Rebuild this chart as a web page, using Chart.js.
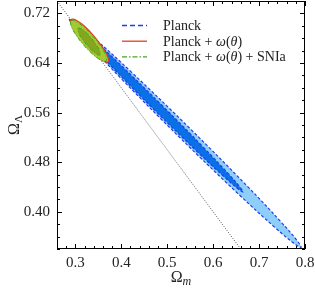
<!DOCTYPE html>
<html>
<head>
<meta charset="utf-8">
<script src="https://cdn.jsdelivr.net/npm/chart.js@4.4.1/dist/chart.umd.min.js"></script>
<style>
  html, body { margin: 0; padding: 0; background: #fff; }
  canvas { display: block; }
</style>
</head>
<body>
<canvas id="chart" width="315" height="290"></canvas>
<script>
// axis ticks
const xTicks = [0.3, 0.4, 0.5, 0.6, 0.7, 0.8];
const yTicks = [0.40, 0.48, 0.56, 0.64, 0.72];

// legend labels
const labels = ['Planck', 'Planck + ω(θ)', 'Planck + ω(θ) + SNIa'];

// Planck 2 sigma contour (Omega_m, Omega_Lambda)
const planck2X = [0.2861, 0.3020, 0.3430, 0.4216, 0.5494, 0.6743, 0.7474, 0.7822, 0.7916, 0.7757, 0.7348, 0.6561, 0.5284, 0.4034, 0.3304, 0.2955, 0.2861];
const planck2Y = [0.7110, 0.7042, 0.6788, 0.6256, 0.5344, 0.4413, 0.3839, 0.3540, 0.3424, 0.3492, 0.3746, 0.4279, 0.5190, 0.6121, 0.6695, 0.6994, 0.7110];
// Planck 1 sigma
const planck1X = [0.2949, 0.3062, 0.3359, 0.3932, 0.4867, 0.5784, 0.6322, 0.6580, 0.6652, 0.6539, 0.6242, 0.5669, 0.4734, 0.3817, 0.3280, 0.3021, 0.2949];
const planck1Y = [0.7045, 0.6992, 0.6802, 0.6406, 0.5731, 0.5043, 0.4621, 0.4402, 0.4319, 0.4372, 0.4562, 0.4958, 0.5633, 0.6321, 0.6743, 0.6962, 0.7045];
// Planck + w(theta) 2 sigma
const thetaX = [0.2895, 0.2945, 0.3036, 0.3189, 0.3405, 0.3594, 0.3690, 0.3722, 0.3711, 0.3640, 0.3540, 0.3395, 0.3190, 0.3015, 0.2930, 0.2900, 0.2895];
const thetaY = [0.7100, 0.7108, 0.7082, 0.7001, 0.6834, 0.6648, 0.6527, 0.6455, 0.6416, 0.6425, 0.6460, 0.6545, 0.6700, 0.6870, 0.6985, 0.7060, 0.7100];
// Planck + w(theta) + SNIa, 2 sigma and 1 sigma
const sn2X = [0.2902, 0.2960, 0.3048, 0.3188, 0.3387, 0.3560, 0.3650, 0.3680, 0.3670, 0.3610, 0.3515, 0.3375, 0.3175, 0.3005, 0.2920, 0.2893, 0.2902];
const sn2Y = [0.7085, 0.7085, 0.7053, 0.6975, 0.6825, 0.6657, 0.6543, 0.6474, 0.6436, 0.6432, 0.6463, 0.6543, 0.6693, 0.6860, 0.6974, 0.7047, 0.7085];
const sn1X = [0.3058, 0.3145, 0.3234, 0.3363, 0.3474, 0.3528, 0.3537, 0.3450, 0.3361, 0.3232, 0.3121, 0.3067, 0.3058];
const sn1Y = [0.6965, 0.6947, 0.6893, 0.6790, 0.6675, 0.6598, 0.6529, 0.6547, 0.6601, 0.6704, 0.6819, 0.6896, 0.6965];
// flat universe line
const flatX = [0.26, 0.66];
const flatY = [0.74, 0.34];

const SERIF = '"Liberation Serif", "Times New Roman", serif';
const BLUE_DASH = 'rgb(35,60,230)';
const RED = 'rgb(228,62,34)';
const GREEN_DASH = 'rgb(70,165,40)';

function pts(xs, ys) {
    return xs.map((x, i) => ({ x: x, y: ys[i] }));
}

function contour(xs, ys, fillColor, lineColor, dash, width, order) {
    return {
        data: pts(xs, ys),
        backgroundColor: fillColor,
        borderColor: lineColor,
        borderWidth: width,
        borderDash: dash,
        fill: fillColor ? 'shape' : false,
        tension: 0.4,
        pointRadius: 0,
        order: order
    };
}

// text with italic lowercase greek letters
function drawRuns(ctx, text, x, y, size) {
    let cx = x;
    for (const ch of text) {
        const italic = /[α-ω]/.test(ch);
        ctx.font = (italic ? 'italic ' : '') + size + 'px ' + SERIF;
        ctx.fillText(ch, cx, y);
        cx += ctx.measureText(ch).width;
    }
    return cx - x;
}

const framePlugin = {
    id: 'frame',
    afterDatasetsDraw(chart) {
        const { ctx, chartArea: a, scales } = chart;
        ctx.save();
        ctx.strokeStyle = '#000';
        ctx.lineWidth = 1;
        ctx.strokeRect(a.left + 0.5, a.top + 0.5, a.right - a.left - 1, a.bottom - a.top - 1);
        ctx.beginPath();
        for (let i = 0; i <= 27; i++) {
            const v = 0.26 + i * 0.02;
            const major = xTicks.some(t => Math.abs(t - v) < 1e-6);
            const len = major ? 5 : 3;
            const px = Math.round(scales.x.getPixelForValue(v)) + 0.5;
            ctx.moveTo(px, a.bottom); ctx.lineTo(px, a.bottom - len);
            ctx.moveTo(px, a.top); ctx.lineTo(px, a.top + len);
        }
        for (let i = 0; i <= 20; i++) {
            const v = 0.34 + i * 0.02;
            const major = yTicks.some(t => Math.abs(t - v) < 1e-6);
            const len = major ? 5 : 3;
            const py = Math.round(scales.y.getPixelForValue(v)) + 0.5;
            ctx.moveTo(a.left, py); ctx.lineTo(a.left + len, py);
            ctx.moveTo(a.right, py); ctx.lineTo(a.right - len, py);
        }
        ctx.stroke();
        ctx.restore();
    },
    afterDraw(chart) {
        const { ctx, chartArea: a } = chart;
        ctx.save();
        ctx.fillStyle = '#222';
        ctx.textBaseline = 'alphabetic';

        // legend
        const styles = [
            { color: BLUE_DASH, dash: [5, 3] },
            { color: RED, dash: [] },
            { color: GREEN_DASH, dash: [5, 2, 1.5, 2] }
        ];
        const base = [30, 45.7, 61.4];
        labels.forEach((lab, i) => {
            ctx.strokeStyle = styles[i].color;
            ctx.lineWidth = 1.3;
            ctx.setLineDash(styles[i].dash);
            ctx.beginPath();
            ctx.moveTo(122, base[i] - 4.5);
            ctx.lineTo(147, base[i] - 4.5);
            ctx.stroke();
            ctx.setLineDash([]);
            ctx.textAlign = 'left';
            drawRuns(ctx, lab, 163, base[i], 14);
        });

        // x axis title
        ctx.font = '16px ' + SERIF;
        const wO = ctx.measureText('Ω').width;
        ctx.font = 'italic 12px ' + SERIF;
        const wm = ctx.measureText('m').width;
        const cx = (a.left + a.right) / 2 - (wO + wm) / 2;
        ctx.font = '16px ' + SERIF;
        ctx.fillText('Ω', cx, 282);
        ctx.font = 'italic 12px ' + SERIF;
        ctx.fillText('m', cx + wO, 285);

        // y axis title
        ctx.translate(18.5, 125);
        ctx.rotate(-Math.PI / 2);
        ctx.font = '11px ' + SERIF;
        const wL = ctx.measureText('Λ').width;
        ctx.font = '16px ' + SERIF;
        const sx = -(wO + wL) / 2;
        ctx.fillText('Ω', sx, 0);
        ctx.font = '11px ' + SERIF;
        ctx.fillText('Λ', sx + wO, 3);
        ctx.restore();
    }
};

const ctx = document.getElementById('chart').getContext('2d');
const chart = new Chart(ctx, {
    type: 'line',
    data: {
        datasets: [
            contour(sn1X, sn1Y, 'rgb(132,166,28)', GREEN_DASH, [4, 2, 1, 2], 1, 1),
            contour(sn2X, sn2Y, 'rgb(163,201,48)', GREEN_DASH, [4, 2, 1, 2], 1, 2),
            contour(thetaX, thetaY, 'rgb(163,201,48)', RED, [], 1.2, 3),
            contour(planck1X, planck1Y, 'rgb(10,112,232)', BLUE_DASH, [3, 2], 1.2, 4),
            contour(planck2X, planck2Y, 'rgb(142,206,250)', BLUE_DASH, [3, 2], 1.2, 5),
            {
                data: pts(flatX, flatY),
                borderColor: '#555',
                borderWidth: 1,
                borderDash: [1, 1.5],
                fill: false,
                pointRadius: 0,
                order: 6
            }
        ]
    },
    options: {
        responsive: false,
        animation: false,
        layout: { padding: { top: 1, right: 10, left: 0, bottom: 0 } },
        plugins: {
            legend: { display: false },
            tooltip: { enabled: false }
        },
        scales: {
            x: {
                type: 'linear',
                min: 0.26,
                max: 0.80,
                grid: { display: false, drawTicks: false },
                border: { display: false },
                afterBuildTicks: s => { s.ticks = xTicks.map(v => ({ value: v })); },
                afterFit: s => { s.height = 41; s.paddingLeft = 0; s.paddingRight = 0; },
                ticks: {
                    padding: 5,
                    color: '#222',
                    autoSkip: false,
                    maxRotation: 0,
                    font: { family: SERIF, size: 15 },
                    callback: v => v.toFixed(1)
                }
            },
            y: {
                type: 'linear',
                min: 0.34,
                max: 0.74,
                grid: { display: false, drawTicks: false },
                border: { display: false },
                afterBuildTicks: s => { s.ticks = yTicks.map(v => ({ value: v })); },
                afterFit: s => { s.width = 57; s.paddingTop = 0; s.paddingBottom = 0; },
                ticks: {
                    padding: 7,
                    color: '#222',
                    autoSkip: false,
                    font: { family: SERIF, size: 15 },
                    callback: v => v.toFixed(2)
                }
            }
        }
    },
    plugins: [framePlugin]
});
</script>
</body>
</html>
